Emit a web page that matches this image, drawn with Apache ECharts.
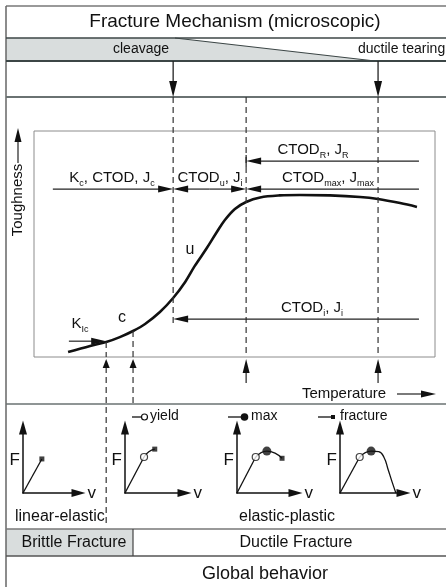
<!DOCTYPE html>
<html><head><meta charset="utf-8">
<script src="https://cdn.jsdelivr.net/npm/echarts@6/dist/echarts.min.js"></script>
<style>html,body{margin:0;padding:0;background:#fff}#c{width:446px;height:587px}</style>
</head><body><div id="c"></div>
<script>
// ---------------- data ----------------
// toughness transition curve (temperature, toughness) in arbitrary units 0..100
const curveTemp  = [8.5, 14.0, 18.0, 21.4, 24.7, 27.7, 31.4, 34.7, 37.7, 40.1, 43.1, 45.6, 47.6, 50.1, 52.9, 56.4, 61.3, 66.3, 73.8, 81.3, 85.8, 91.3, 95.5];
const curveTough = [2.2,  4.9,  6.6,  8.8, 11.5, 14.6, 19.9, 26.1, 33.2, 40.3, 48.2, 55.3, 60.6, 65.5, 68.6, 70.6, 71.5, 71.7, 71.5, 70.8, 69.9, 68.1, 66.4];
// characteristic temperatures: K_Ic, c, u (cleavage limit), i/max, ductile tearing
const tempKic = 18.0, tempC = 24.7, tempU = 34.7, tempI = 52.9, tempTear = 85.8;
// arrow levels (toughness) and ranges (temperature)
const levelR = 86.7, levelMain = 74.3, levelInit = 16.8, levelKic = 7.0;
const tempLeft = 4.7, tempRight = 96.0, tempKicStart = 8.7, tempUDashEnd = 15.0;
// force-displacement sketches (v, F)
const p1Lin = [[0, 0], [3.4, 5.2]];
const p2Lin = [[0, 0], [3.2, 5.5]];
const p2Cur = [[3.2, 5.5], [4.0, 6.3], [5.0, 6.7]];
const p3Lin = [[0, 0], [3.2, 5.5]];
const p3Cur = [[3.2, 5.5], [5.1, 6.4], [6.5, 6.1], [7.7, 5.3]];
const p4Lin = [[0, 0], [3.1, 5.5]];
const p4Cur = [[3.1, 5.5], [4.9, 6.4], [6.1, 6.3], [6.9, 5.5], [7.6, 3.5], [8.2, 1.7], [8.8, 0]];
const yieldPts = [null, [3.2, 5.5], [3.2, 5.5], [3.1, 5.5]];
const maxPts = [null, null, [5.1, 6.4], [4.9, 6.4]];
const fracturePts = [[3.4, 5.2], [5.0, 6.7], [7.7, 5.3], null];

// ---------------- layout ----------------
const FONT = '"Liberation Sans", Arial, Helvetica, sans-serif';
const INK = '#111';
const chart = echarts.init(document.getElementById('c'), null, {renderer: 'canvas'});

const miniLeft = [23, 125, 237, 340];
const miniWidth = [55.5, 59.5, 58.5, 63.5];
const miniLin = [p1Lin, p2Lin, p3Lin, p4Lin];
const miniCur = [null, p2Cur, p3Cur, p4Cur];

const grids = [{left: 34, top: 131, width: 401, height: 226, show: true, borderColor: '#8c8c8c', borderWidth: 1, backgroundColor: 'transparent', outerBoundsMode: 'none'}];
const xAxes = [{gridIndex: 0, type: 'value', min: 0, max: 100, show: false}];
const yAxes = [{gridIndex: 0, type: 'value', min: 0, max: 100, show: false}];
const series = [{
  type: 'line', xAxisIndex: 0, yAxisIndex: 0, smooth: 0.35, showSymbol: false,
  lineStyle: {color: INK, width: 2.6}, z: 4,
  data: curveTemp.map((t, i) => [t, curveTough[i]])
}];
for (let i = 0; i < 4; i++) {
  const gi = i + 1;
  grids.push({left: miniLeft[i], top: 427.5, width: miniWidth[i], height: 65.5, outerBoundsMode: 'none'});
  const axLine = {show: true, onZero: false, symbol: ['none', 'triangle'], symbolSize: [8, 14], lineStyle: {color: INK, width: 1.5}};
  xAxes.push({gridIndex: gi, type: 'value', min: 0, max: 10, axisLine: axLine, axisTick: {show: false}, axisLabel: {show: false}, splitLine: {show: false},
    name: 'v', nameLocation: 'end', nameGap: 9, nameTextStyle: {fontSize: 17, color: INK, fontFamily: FONT}});
  yAxes.push({gridIndex: gi, type: 'value', min: 0, max: 10, axisLine: axLine, axisTick: {show: false}, axisLabel: {show: false}, splitLine: {show: false},
    name: 'F', nameLocation: 'middle', nameRotate: 0, nameGap: 3, nameTextStyle: {fontSize: 17, color: INK, fontFamily: FONT, padding: [0, 0, 12, 0]}});
  series.push({type: 'line', xAxisIndex: gi, yAxisIndex: gi, showSymbol: false, lineStyle: {color: INK, width: 1.3}, data: miniLin[i]});
  if (miniCur[i]) series.push({type: 'line', xAxisIndex: gi, yAxisIndex: gi, showSymbol: false, smooth: 0.5, lineStyle: {color: INK, width: 1.3}, data: miniCur[i]});
  const marks = [];
  if (yieldPts[i]) marks.push({value: yieldPts[i], symbol: 'circle', symbolSize: 7, itemStyle: {color: '#fff', borderColor: INK, borderWidth: 1.2}});
  if (maxPts[i]) marks.push({value: maxPts[i], symbol: 'circle', symbolSize: 9, itemStyle: {color: INK}});
  if (fracturePts[i]) marks.push({value: fracturePts[i], symbol: 'rect', symbolSize: 5, itemStyle: {color: INK}});
  series.push({type: 'scatter', xAxisIndex: gi, yAxisIndex: gi, z: 5, data: marks});
}

chart.setOption({animation: false, backgroundColor: '#fff', grid: grids, xAxis: xAxes, yAxis: yAxes, series: series});

// ---------------- annotations ----------------
const P = (t, k) => chart.convertToPixel({gridIndex: 0}, [t, k]);
const X = t => P(t, 0)[0];
const els = [];
const FR = '#6a7272', FRD = '#3c4646';
function hline(y, x1, x2, c, w) { els.push({type: 'line', z: 6, shape: {x1: x1, y1: y, x2: x2, y2: y}, style: {stroke: c, lineWidth: w}}); }
function vline(x, y1, y2, c, w, dash) { els.push({type: 'line', z: 6, shape: {x1: x, y1: y1, x2: x, y2: y2}, style: {stroke: c, lineWidth: w, lineDash: dash || null}}); }
function head(x1, y1, x2, y2, L, W, c) {
  const dx = x2 - x1, dy = y2 - y1, d = Math.hypot(dx, dy), ux = dx / d, uy = dy / d;
  const bx = x2 - ux * L, by = y2 - uy * L, nx = -uy, ny = ux;
  els.push({type: 'polygon', z: 7, shape: {points: [[x2, y2], [bx + nx * W / 2, by + ny * W / 2], [bx - nx * W / 2, by - ny * W / 2]]}, style: {fill: c || INK}});
  return [bx + ux, by + uy];
}
function arrow(x1, y1, x2, y2, o) {
  o = o || {};
  const b = head(x1, y1, x2, y2, o.len || 15, o.w || 7, o.color);
  els.push({type: 'line', z: 6, shape: {x1: x1, y1: y1, x2: b[0], y2: b[1]}, style: {stroke: o.color || '#222', lineWidth: o.lw || 1.2, lineDash: o.dash || null}});
}
function txt(x, y, s, size, align, rich, extra) {
  const e = {type: 'text', z: 8, x: x, y: y, style: Object.assign({text: s, fontSize: size, fontFamily: FONT, fill: INK, align: align || 'center', verticalAlign: 'middle', rich: rich}, extra || {})};
  els.push(e);
}
const RICH = {
  n: {fontSize: 15, lineHeight: 20, fontFamily: FONT, fill: INK},
  s: {fontSize: 9, lineHeight: 9, verticalAlign: 'bottom', fontFamily: FONT, fill: INK}
};

// bands / frame
els.push({type: 'polygon', z: 1, shape: {points: [[6, 38], [175, 38], [375, 61], [6, 61]]}, style: {fill: '#d9dddd'}});
els.push({type: 'line', z: 6, shape: {x1: 175, y1: 38, x2: 375, y2: 61}, style: {stroke: FRD, lineWidth: 1.2}});
els.push({type: 'rect', z: 1, shape: {x: 6, y: 529, width: 127, height: 27}, style: {fill: '#d9dddd'}});
hline(6, 6, 446, '#777', 1.5);
vline(6, 6, 587, '#666', 1.5);
hline(38, 6, 446, FRD, 1.5);
hline(61, 6, 446, FRD, 2);
hline(97, 6, 446, FR, 2);
hline(404, 6, 446, FR, 1.5);
hline(529, 6, 446, '#777', 1.5);
hline(556, 6, 446, '#555', 1.5);
vline(133, 529, 556, '#444', 1.2);

// texts in bands
txt(235, 22, 'Fracture Mechanism (microscopic)', 19);
txt(113, 49, 'cleavage', 14, 'left');
txt(358, 49, 'ductile tearing', 14, 'left');
txt(15, 517, 'linear-elastic', 16, 'left');
txt(287, 517, 'elastic-plastic', 16);
txt(74, 543, 'Brittle Fracture', 16);
txt(296, 543, 'Ductile Fracture', 16);
txt(265, 574, 'Global behavior', 18);

// dashed guide lines
const DASH = [6, 4];
const xU = X(tempU), xI = X(tempI), xT = X(tempTear), xK = X(tempKic), xC = X(tempC);
const yBot = P(0, 0)[1];
vline(xU, 97, P(tempU, tempUDashEnd)[1], '#333', 1.2, DASH);
vline(xI, 97, yBot, '#333', 1.2, DASH);
vline(xT, 97, yBot, '#333', 1.2, DASH);
vline(xK, P(tempKic, curveTough[curveTemp.indexOf(tempKic)])[1], yBot, '#333', 1.2, DASH);
vline(xC, P(tempC, curveTough[curveTemp.indexOf(tempC)])[1], yBot, '#333', 1.2, DASH);
vline(xK, 367, 525, '#333', 1.2, DASH);
vline(xC, 367, 404, '#333', 1.2, DASH);

// arrows from top band
arrow(xU, 61, xU, 97, {len: 16, w: 8, lw: 1.3});
arrow(xT, 61, xT, 97, {len: 16, w: 8, lw: 1.3});
// arrows from below the plot
head(xK, 380, xK, 359, 9, 7);
head(xC, 380, xC, 359, 9, 7);
arrow(xI, 383, xI, 359, {len: 14, w: 7});
arrow(xT, 383, xT, 359, {len: 14, w: 7});

// inner measurement arrows
const yR = P(0, levelR)[1], yM = P(0, levelMain)[1], yIn = P(0, levelInit)[1], yK = P(0, levelKic)[1];
arrow(X(tempRight), yR, xI, yR);
vline(xI, yR - 6, yR + 6, '#222', 1.2);
arrow(X(tempLeft), yM, xU, yM);
arrow((xU + xI) / 2, yM, xU, yM);
arrow((xU + xI) / 2, yM, xI, yM);
arrow(X(tempRight), yM, xI, yM);
arrow(X(tempRight), yIn, xU, yIn);
arrow(X(tempKicStart), yK, xK, yK);

// inner labels
txt(112, 178, '{n|K}{s|c}{n|, CTOD, J}{s|c}', 15, 'center', RICH);
txt(210, 178, '{n|CTOD}{s|u}{n|, J}{s|i}', 15, 'center', RICH);
txt(328, 178, '{n|CTOD}{s|max}{n|, J}{s|max}', 15, 'center', RICH);
txt(313, 150, '{n|CTOD}{s|R}{n|, J}{s|R}', 15, 'center', RICH);
txt(312, 308, '{n|CTOD}{s|i}{n|, J}{s|i}', 15, 'center', RICH);
txt(80, 324, '{n|K}{s|Ic}', 15, 'center', RICH);
txt(190, 250, 'u', 16);
txt(122, 318, 'c', 16);

// axis titles (Toughness reads bottom-to-top)
els.push({type: 'text', z: 8, x: 18, y: 200, rotation: Math.PI / 2, style: {text: 'Toughness', fontSize: 15, fontFamily: FONT, fill: INK, align: 'center', verticalAlign: 'middle'}});
arrow(18, 163, 18, 128, {len: 14, w: 7});
txt(344, 394, 'Temperature', 15);
arrow(397, 394, 436, 394, {len: 15, w: 7});

// marker legend
els.push({type: 'line', z: 6, shape: {x1: 132, y1: 417, x2: 141, y2: 417}, style: {stroke: INK, lineWidth: 1.3}});
els.push({type: 'circle', z: 7, shape: {cx: 144.5, cy: 417, r: 3}, style: {fill: '#fff', stroke: INK, lineWidth: 1.2}});
txt(150, 416, 'yield', 14, 'left');
els.push({type: 'line', z: 6, shape: {x1: 228, y1: 417, x2: 243, y2: 417}, style: {stroke: INK, lineWidth: 1.3}});
els.push({type: 'circle', z: 7, shape: {cx: 244.5, cy: 417, r: 3.8}, style: {fill: INK}});
txt(251, 416, 'max', 14, 'left');
els.push({type: 'line', z: 6, shape: {x1: 318, y1: 417, x2: 331, y2: 417}, style: {stroke: INK, lineWidth: 1.3}});
els.push({type: 'rect', z: 7, shape: {x: 331, y: 415, width: 4, height: 4}, style: {fill: INK}});
txt(340, 416, 'fracture', 14, 'left');

chart.setOption({graphic: {elements: els}});
</script></body></html>
